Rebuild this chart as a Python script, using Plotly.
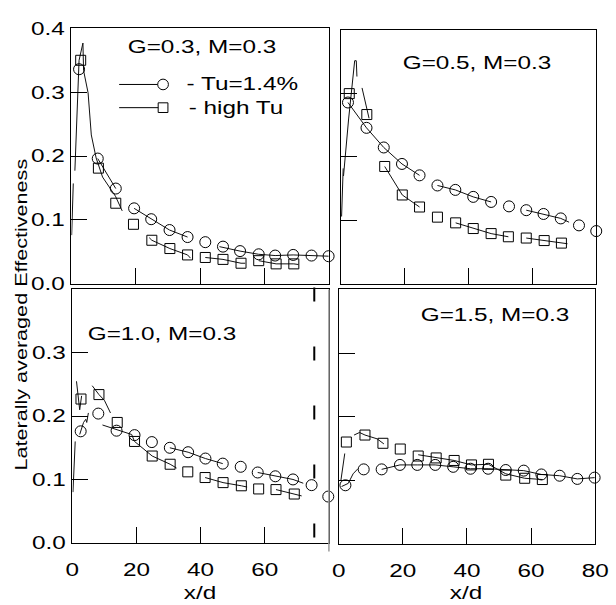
import plotly.graph_objects as go

FONT = "Liberation Sans, Arial, Helvetica, sans-serif"

# ---------------- data ----------------
# Panel G=0.3
tl_circ_x = [2.4, 8.2, 13.8, 19.5, 24.8, 30.5, 36.1, 41.6, 47.1, 52.4, 58.2, 63.3, 68.9, 74.6, 79.9]
tl_circ_y = [0.336, 0.196, 0.149, 0.118, 0.101, 0.084, 0.073, 0.065, 0.058, 0.051, 0.046, 0.044, 0.045, 0.044, 0.043]
tl_sq_x = [2.9, 8.4, 13.8, 19.3, 25.0, 30.6, 36.1, 41.6, 47.1, 52.7, 58.2, 63.6, 69.1]
tl_sq_y = [0.350, 0.181, 0.126, 0.093, 0.068, 0.055, 0.045, 0.041, 0.038, 0.032, 0.036, 0.031, 0.031]
tl_circ_line_x = [8.2, 13.8, None, 19.5, 24.8, 30.5, 36.1, None, 46.0, 52.4, 58.2, 63.3, 68.9, 74.6, 79.9]
tl_circ_line_y = [0.196, 0.149, None, 0.118, 0.101, 0.084, 0.073, None, 0.058, 0.051, 0.046, 0.044, 0.045, 0.044, 0.043]
tl_sq_line_x = [0.1, 0.6, None, 1.1, 1.8, 2.4, 3.6, 3.8, 5.2, 6.2, 7.7, 9.7, 13.7, 15.8, None,
                24.2, 25.0, 30.6, 36.1, 37.0, None, 41.6, 47.1, 52.7, 54.0, None, 58.2, 63.6, 69.1, 70.5]
tl_sq_line_y = [0.076, 0.157, None, 0.177, 0.289, 0.350, 0.377, 0.334, 0.299, 0.233, 0.197, 0.167, 0.137, 0.114, None,
                0.072, 0.068, 0.055, 0.045, 0.040, None, 0.041, 0.038, 0.032, 0.032, None, 0.036, 0.031, 0.031, 0.030]

# Panel G=0.5
tr_circ_x = [2.3, 8.1, 13.5, 19.2, 24.7, 30.3, 35.9, 41.5, 47.1, 52.7, 58.1, 63.5, 68.9, 74.6, 80.0]
tr_circ_y = [0.286, 0.246, 0.215, 0.189, 0.171, 0.155, 0.148, 0.137, 0.129, 0.122, 0.116, 0.110, 0.103, 0.092, 0.083]
tr_sq_x = [2.7, 8.2, 13.8, 19.3, 24.7, 30.3, 36.0, 41.5, 47.1, 52.5, 58.1, 63.7, 69.1]
tr_sq_y = [0.300, 0.267, 0.185, 0.140, 0.121, 0.105, 0.096, 0.087, 0.079, 0.074, 0.072, 0.068, 0.064]
tr_circ_line_x = [2.3, 5.5, 8.1, 13.5, 19.2, 24.7, None, 30.3, 35.9, 41.5, 47.1, None, 58.1, 63.5, 68.9, 71.5]
tr_circ_line_y = [0.286, 0.265, 0.246, 0.215, 0.189, 0.171, None, 0.155, 0.148, 0.137, 0.129, None, 0.116, 0.110, 0.103, 0.097]
tr_sq_line_x = [0.3, 0.8, None, 0.9, 2.5, 4.4, 4.9, 5.1, None, 6.7, 8.9, None,
                13.8, 19.3, 24.7, None, 36.0, 41.5, 47.1, 52.5, None, 58.1, 63.7, 69.1, 71.0]
tr_sq_line_y = [0.106, 0.182, None, 0.170, 0.260, 0.352, 0.352, 0.327, None, 0.309, 0.261, None,
                0.185, 0.140, 0.121, None, 0.096, 0.087, 0.079, 0.074, None, 0.072, 0.068, 0.064, 0.063]

# Panel G=1.0
bl_circ_x = [2.6, 8.1, 13.8, 19.4, 24.8, 30.4, 36.1, 41.5, 46.9, 52.5, 57.8, 63.3, 68.8, 74.6, 79.8]
bl_circ_y = [0.176, 0.204, 0.177, 0.170, 0.159, 0.150, 0.143, 0.133, 0.125, 0.120, 0.111, 0.105, 0.100, 0.091, 0.073]
bl_sq_x = [2.7, 8.3, 14.0, 19.4, 24.9, 30.5, 36.0, 41.4, 47.0, 52.7, 58.1, 63.5, 69.2]
bl_sq_y = [0.227, 0.234, 0.190, 0.160, 0.137, 0.124, 0.112, 0.103, 0.095, 0.090, 0.085, 0.084, 0.077]
bl_circ_line_x = [0.2, 0.9, None, 2.3, 3.5, 4.2, 4.5, 5.0, None, 30.4, 36.1, 41.5, 46.9, None, 57.8, 63.3, 68.8, 72.0]
bl_circ_line_y = [0.080, 0.160, None, 0.171, 0.190, 0.195, 0.190, 0.205, None, 0.150, 0.143, 0.133, 0.125, None, 0.111, 0.105, 0.100, 0.094]
bl_sq_line_x = [1.3, 2.3, 2.9, None, 6.2, 8.3, 10.0, 11.0, 11.9, None, 9.4, 14.0, 18.5, 19.4, 24.9, 30.5, 32.5, None,
                41.4, 47.0, 52.7, 54.5, None, 63.5, 69.2, 71.5]
bl_sq_line_y = [0.255, 0.210, 0.232, None, 0.248, 0.234, 0.225, 0.215, 0.205, None, 0.186, 0.178, 0.171, 0.160, 0.137, 0.124, 0.118, None,
                0.103, 0.095, 0.090, 0.088, None, 0.084, 0.077, 0.074]

# Panel G=1.5
br_circ_x = [2.1, 7.8, 13.4, 19.1, 24.5, 30.1, 35.7, 41.1, 46.6, 52.1, 57.7, 63.2, 68.9, 74.4, 79.8]
br_circ_y = [0.092, 0.117, 0.117, 0.124, 0.124, 0.124, 0.121, 0.118, 0.118, 0.116, 0.115, 0.109, 0.107, 0.102, 0.104]
br_sq_x = [2.4, 8.2, 13.8, 19.2, 24.8, 30.4, 36.0, 41.4, 46.7, 52.1, 58.0, 63.5]
br_sq_y = [0.160, 0.171, 0.158, 0.149, 0.138, 0.135, 0.131, 0.124, 0.125, 0.108, 0.103, 0.101]
br_circ_line_x = [0.7, 1.9, None, 0.9, 3.0, 4.5, 6.0, None, 13.4, 19.1, 24.5, 30.1, 35.7, 41.1, 46.6, 52.1, 57.7, 63.2, 68.9, 74.4, 79.8]
br_circ_line_y = [0.100, 0.142, None, 0.090, 0.095, 0.110, 0.118, None, 0.117, 0.124, 0.124, 0.124, 0.121, 0.118, 0.118, 0.116, 0.115, 0.109, 0.107, 0.102, 0.104]
br_sq_line_x = [4.8, 6.5, 8.2, 10.0, 12.0, 14.1, None, 24.8, 30.4, 36.0, 41.4, 46.7, 52.1, 58.0, 63.5]
br_sq_line_y = [0.171, 0.175, 0.171, 0.168, 0.165, 0.157, None, 0.140, 0.135, 0.131, 0.124, 0.125, 0.110, 0.103, 0.101]

panel_titles = ["G=0.3, M=0.3", "G=0.5, M=0.3", "G=1.0, M=0.3", "G=1.5, M=0.3"]
legend_names = ["Tu=1.4%", "high Tu"]
x_tick_vals = [0, 20, 40, 60, 80]
y_tick_vals = [0.0, 0.1, 0.2, 0.3, 0.4]

panels = [
    (tl_circ_x, tl_circ_y, tl_sq_x, tl_sq_y, tl_circ_line_x, tl_circ_line_y, tl_sq_line_x, tl_sq_line_y),
    (tr_circ_x, tr_circ_y, tr_sq_x, tr_sq_y, tr_circ_line_x, tr_circ_line_y, tr_sq_line_x, tr_sq_line_y),
    (bl_circ_x, bl_circ_y, bl_sq_x, bl_sq_y, bl_circ_line_x, bl_circ_line_y, bl_sq_line_x, bl_sq_line_y),
    (br_circ_x, br_circ_y, br_sq_x, br_sq_y, br_circ_line_x, br_circ_line_y, br_sq_line_x, br_sq_line_y),
]

# ---------------- figure ----------------
W, H = 616, 605
def px(v): return v / W
def py(v): return 1 - v / H

domains = [
    ([px(68), px(332)], [py(283), py(19)]),
    ([px(344), px(606)], [py(283), py(21)]),
    ([px(69), px(332)], [py(551), py(289)]),
    ([px(342), px(605)], [py(552), py(289)]),
]

fig = go.Figure()
LINE_C = "#111111"
for i, (cx, cy, sx, sy, clx, cly, slx, sly) in enumerate(panels):
    xa = "x" if i == 0 else f"x{i+1}"
    ya = "y" if i == 0 else f"y{i+1}"
    fig.add_trace(go.Scatter(x=clx, y=cly, mode="lines", xaxis=xa, yaxis=ya,
                             line=dict(color=LINE_C, width=1), cliponaxis=False, showlegend=False))
    fig.add_trace(go.Scatter(x=slx, y=sly, mode="lines", xaxis=xa, yaxis=ya,
                             line=dict(color=LINE_C, width=1), cliponaxis=False, showlegend=False))
    fig.add_trace(go.Scatter(x=cx, y=cy, mode="markers", xaxis=xa, yaxis=ya, name=legend_names[0],
                             marker=dict(symbol="circle-open", size=11, color="black", line=dict(width=1)),
                             cliponaxis=False, showlegend=False))
    fig.add_trace(go.Scatter(x=sx, y=sy, mode="markers", xaxis=xa, yaxis=ya, name=legend_names[1],
                             marker=dict(symbol="square-open", size=10, color="black", line=dict(width=1)),
                             cliponaxis=False, showlegend=False))

common = dict(showline=True, linecolor="black", linewidth=1, mirror=True, ticks="inside",
              ticklen=16, tickwidth=1, tickcolor="black", showgrid=False, zeroline=False,
              tickfont=dict(family=FONT, size=18, color="black"))

layout = dict(width=W, height=H, margin=dict(l=0, r=0, t=0, b=0),
              paper_bgcolor="white", plot_bgcolor="white", showlegend=False,
              font=dict(family=FONT, size=18, color="black"))

x_lab_sets = [None, None, x_tick_vals[:4], x_tick_vals]
y_lab_sets = [y_tick_vals, None, y_tick_vals[:4], None]
for i in range(4):
    xk = "xaxis" if i == 0 else f"xaxis{i+1}"
    yk = "yaxis" if i == 0 else f"yaxis{i+1}"
    xa = "x" if i == 0 else f"x{i+1}"
    ya = "y" if i == 0 else f"y{i+1}"
    xd, yd = domains[i]
    xl = x_lab_sets[i]
    yl = y_lab_sets[i]
    xcfg = dict(common, domain=xd, anchor=ya, range=[0, 80])
    if xl is None:
        xcfg.update(tickvals=x_tick_vals[1:4], showticklabels=False)
    else:
        xcfg.update(tickvals=xl, ticktext=[str(v) for v in xl], showticklabels=True, ticklabelstandoff=11)
    ycfg = dict(common, domain=yd, anchor=xa, range=[0, 0.4])
    if yl is None:
        ycfg.update(tickvals=y_tick_vals[1:4], showticklabels=False)
    else:
        ycfg.update(tickvals=yl, ticktext=[f"{v:.1f}" for v in yl], showticklabels=True, ticklabelstandoff=2)
    layout[xk] = xcfg
    layout[yk] = ycfg

fig.update_layout(**layout)

ann = []
title_pos = [(202, 38), (484, 55), (161, 335), (502, 315)]
for t, (ax, ay) in zip(panel_titles, title_pos):
    ann.append(dict(text=t, x=px(ax), y=py(ay), xref="paper", yref="paper", xanchor="center",
                    yanchor="middle", showarrow=False, font=dict(family=FONT, size=18, color="black")))
for xc in (200, 473):
    ann.append(dict(text="x/d", x=px(xc), y=py(592), xref="paper", yref="paper", xanchor="center",
                    yanchor="middle", yshift=-11, showarrow=False, borderpad=0,
                    font=dict(family=FONT, size=18, color="black")))
ann.append(dict(text="Laterally averaged Effectiveness", x=px(17), y=py(315), xref="paper", yref="paper",
                xanchor="center", yanchor="middle", textangle=-90, showarrow=False,
                font=dict(family=FONT, size=16, color="black")))
# legend texts
for name, ly in zip(legend_names, (77, 101)):
    ann.append(dict(text="- " + name, x=px(199), y=py(ly), xref="paper", yref="paper", xanchor="left",
                    yanchor="middle", showarrow=False, font=dict(family=FONT, size=18, color="black")))

shapes = []
# legend samples
for ly in (77, 101):
    shapes.append(dict(type="line", xref="paper", yref="paper", x0=px(117), x1=px(167), y0=py(ly), y1=py(ly),
                       line=dict(color="black", width=1)))
shapes.append(dict(type="circle", xref="paper", yref="paper", x0=px(156.5), x1=px(167.5), y0=py(82.5), y1=py(71.5),
                   line=dict(color="black", width=1), fillcolor="white"))
shapes.append(dict(type="rect", xref="paper", yref="paper", x0=px(157), x1=px(167), y0=py(106), y1=py(96),
                   line=dict(color="black", width=1), fillcolor="white"))
# grey right edge of lower-left frame and stray dashed line
shapes.append(dict(type="line", xref="paper", yref="paper", x0=px(332), x1=px(332), y0=py(289), y1=py(560),
                   line=dict(color="#9a9a9a", width=1.5)))
shapes.append(dict(type="line", xref="paper", yref="paper", x0=px(317), x1=px(317), y0=py(287), y1=py(560),
                   line=dict(color="black", width=2, dash="14px,45px")))

fig.update_layout(annotations=ann, shapes=shapes)

post = """
var gd = document.getElementById('{plot_id}');
function stretch(){
  gd.querySelectorAll('text').forEach(function(t){
    var L = t.getComputedTextLength();
    if (L > 0) { t.setAttribute('textLength', (L*1.35).toFixed(2)); t.setAttribute('lengthAdjust','spacingAndGlyphs'); }
  });
}
stretch();
"""

fig.write_html("out.html", config={"displayModeBar": False}, post_script=post)
